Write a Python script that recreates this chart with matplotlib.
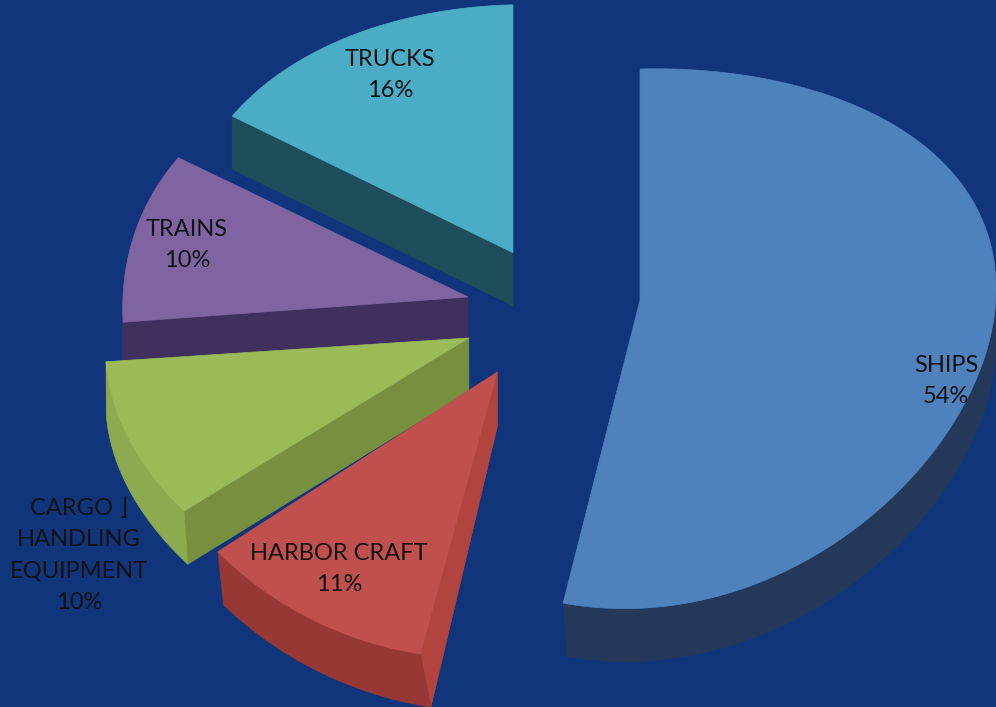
import numpy as np
import matplotlib.pyplot as plt
from matplotlib.patches import Polygon

# data
categories = ['SHIPS', 'HARBOR CRAFT', 'CARGO \u230b\nHANDLING\nEQUIPMENT', 'TRAINS', 'TRUCKS']
shares = [54, 11, 10, 10, 16]

# styling
BG = '#11357b'
top_colors = ['#4f81bd', '#c0504d', '#9bbb59', '#8064a2', '#4bacc6']
rim_colors = ['#24395a', '#983835', '#8cab4e', '#40305e', '#1e4d5c']
face_colors = ['#24395a', '#b2443f', '#76903f', '#40305e', '#1e4d5c']
explode = [(0.281, 0.064), (-0.12, -0.188), (-0.20, -0.059), (-0.202, 0.098), (-0.076, 0.27)]
radius = [(1.0, 1.03), (1.0, 0.9), (1.02, 0.9), (0.97, 1.15), (0.94, 1.18)]
label_xy = [(946, 381), (339, 569), (79, 555), (187, 245), (390, 75)]

# fake perspective for the tilted 3D pie (pixel space)
CX, CY, S, B, A, K, H = 540, 320, 356, 262, 0.14, 0.045, 53


def project(x, y, drop=0.0):
    yp = y + K * x
    sx = CX + S * x
    sy = CY - B * yp / (1 + A * yp)
    if drop:
        # near edges lean a little, like the vertical lines in the original
        sx += 9 * min(yp, 0) ** 2 * np.clip((640 - sx) / 150, 0, 1)
    return sx, sy + drop


def depth(x, y):
    return y + K * x


fig = plt.figure(figsize=(9.96, 7.07), dpi=100)
fig.patch.set_facecolor(BG)
ax = fig.add_axes([0, 0, 1, 1])
ax.set_facecolor(BG)
ax.set_xlim(0, 996)
ax.set_ylim(707, 0)
ax.axis('off')

total = float(sum(shares))
bounds = np.concatenate([[0], np.cumsum(shares)]) / total * 2 * np.pi

slices = []
for i in range(len(shares)):
    t0, t1 = bounds[i], bounds[i + 1]
    ox, oy = explode[i]
    rx, ry = radius[i]
    tm = (t0 + t1) / 2
    cdepth = depth(ox + 0.5 * rx * np.sin(tm), oy + 0.5 * ry * np.cos(tm))
    slices.append((cdepth, i, t0, t1, ox, oy, rx, ry))

# far slices first
for cdepth, i, t0, t1, ox, oy, rx, ry in sorted(slices, reverse=True):
    th = np.linspace(t0, t1, 200)
    gx = ox + rx * np.sin(th)
    gy = oy + ry * np.cos(th)
    apex_top = project(ox, oy)
    apex_bot = project(ox, oy, H)

    # radial faces (start / end angle), drawn if they face the viewer
    for k, n in ((0, (-np.cos(t0), np.sin(t0))), (-1, (np.cos(t1), -np.sin(t1)))):
        if n[1] + K * n[0] < 0:
            p1 = project(gx[k], gy[k])
            p2 = project(gx[k], gy[k], H)
            ax.add_patch(Polygon([apex_top, p1, p2, apex_bot], closed=True,
                                 facecolor=face_colors[i], edgecolor=face_colors[i], lw=0.5))

    # outer rim, only the part facing the viewer
    vis = np.cos(th) < 0
    if vis.sum() > 1:
        vx, vy = gx[vis], gy[vis]
        top = [project(a, b) for a, b in zip(vx, vy)]
        bot = [project(a, b, H) for a, b in zip(vx, vy)][::-1]
        ax.add_patch(Polygon(top + bot, closed=True,
                             facecolor=rim_colors[i], edgecolor=rim_colors[i], lw=0.5))

    # top face
    pts = [apex_top] + [project(a, b) for a, b in zip(gx, gy)]
    ax.add_patch(Polygon(pts, closed=True, facecolor=top_colors[i],
                         edgecolor=top_colors[i], lw=0.5))

for i, name in enumerate(categories):
    ax.text(label_xy[i][0], label_xy[i][1], f'{name}\n{shares[i]}%',
            ha='center', va='center', fontsize=17, color='#111111',
            family=['Lato', 'DejaVu Sans'], linespacing=1.6)

fig.savefig('out.png', dpi=100, facecolor=BG)
